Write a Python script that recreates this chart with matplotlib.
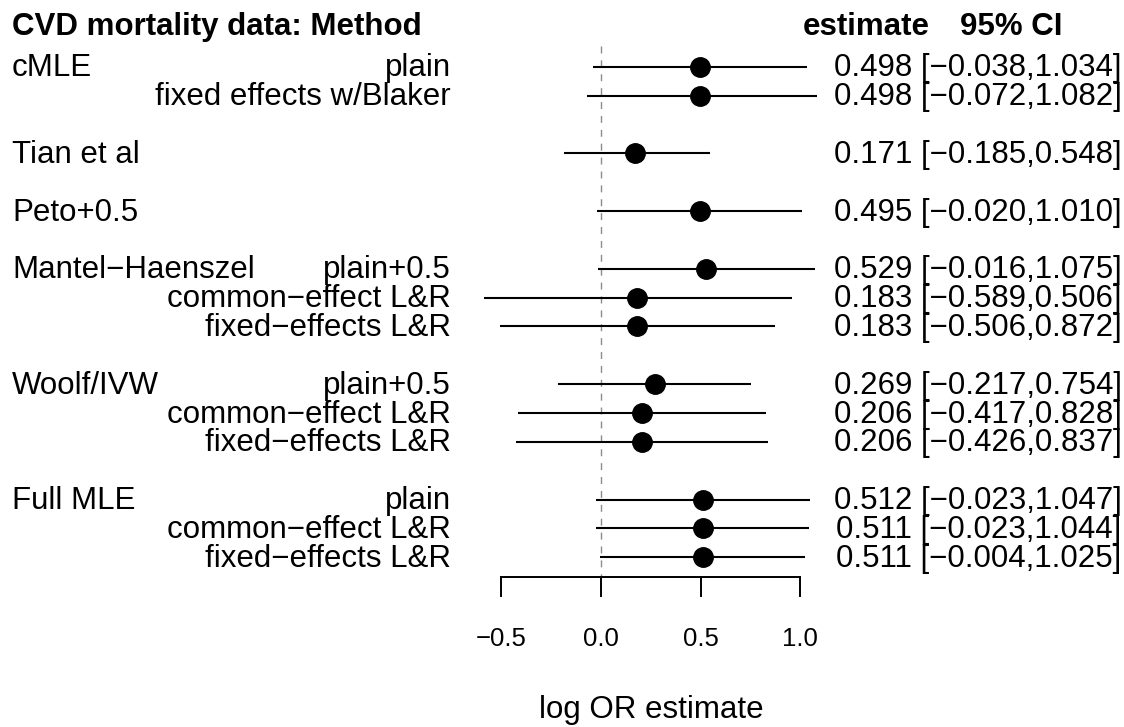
import matplotlib
matplotlib.use("Agg")
import matplotlib.pyplot as plt

plt.rcParams['font.family'] = ['Liberation Sans', 'DejaVu Sans']

MINUS = "\u2212"

# groups of methods and their sub-rows
groups = ["cMLE", "Tian et al", "Peto+0.5", "Mantel" + MINUS + "Haenszel", "Woolf/IVW", "Full MLE"]
group_sizes = [2, 1, 1, 3, 3, 3]
sublabels = ["plain", "fixed effects w/Blaker",
             "",
             "",
             "plain+0.5", "common" + MINUS + "effect L&R", "fixed" + MINUS + "effects L&R",
             "plain+0.5", "common" + MINUS + "effect L&R", "fixed" + MINUS + "effects L&R",
             "plain", "common" + MINUS + "effect L&R", "fixed" + MINUS + "effects L&R"]

est = [0.498, 0.498, 0.171, 0.495, 0.529, 0.183, 0.183, 0.269, 0.206, 0.206, 0.512, 0.511, 0.511]
ci_lo = [-0.038, -0.072, -0.185, -0.020, -0.016, -0.589, -0.506, -0.217, -0.417, -0.426, -0.023, -0.023, -0.004]
ci_hi = [1.034, 1.082, 0.548, 1.010, 1.075, 0.506, 0.872, 0.754, 0.828, 0.837, 1.047, 1.044, 1.025]
# interval ends as drawn in the figure (MH common-effect line runs past its printed upper limit)
line_hi = [1.034, 1.082, 0.548, 1.010, 1.075, 0.958, 0.872, 0.754, 0.828, 0.837, 1.047, 1.044, 1.025]

xticks = [-0.5, 0.0, 0.5, 1.0]
xtick_labels = [MINUS + "0.5", "0.0", "0.5", "1.0"]

# row positions: one blank row between groups
rows = []
first_rows = []
r = 0
for n in group_sizes:
    first_rows.append(r)
    rows.extend(range(r, r + n))
    r += n + 1

fig = plt.figure(figsize=(11.24, 7.27), dpi=100)
ax = fig.add_axes([0, 0, 1, 1])
ax.set_xlim(-601 / 199.3, (1124 - 601) / 199.3)
ax.set_ylim(22.88, -2.311)
ax.axis("off")

fs = 22.5
base = 0.33  # baseline offset below row centre

# reference line at 0
ax.plot([0, 0], [-0.72, 17.67], color="#8c8c8c", lw=1.0, dashes=(5, 5), zorder=1)

for i, y in enumerate(rows):
    ax.plot([ci_lo[i], line_hi[i]], [y, y], color="black", lw=1.5, solid_capstyle="butt", zorder=2)
    ax.plot(est[i], y, "o", color="black", ms=14, zorder=3)
    txt = f"{est[i]:.3f} [{ci_lo[i]:.3f},{ci_hi[i]:.3f}]".replace("-", MINUS)
    ax.text(2.612, y + base, txt, ha="right", va="baseline", fontsize=fs)
    if sublabels[i]:
        ax.text(-0.7526, y + base, sublabels[i], ha="right", va="baseline", fontsize=fs)

for g, y in zip(groups, first_rows):
    ax.text(-2.955, y + base, g, ha="left", va="baseline", fontsize=fs)

# headers
ax.text(-2.955, -1.10, "CVD mortality data: Method", ha="left", va="baseline",
        fontsize=fs, fontweight="bold")
ax.text(1.330, -1.10, "estimate", ha="center", va="baseline", fontsize=fs, fontweight="bold")
ax.text(2.057, -1.10, "95% CI", ha="center", va="baseline", fontsize=fs, fontweight="bold")

# x axis
axis_y = 17.67
ax.plot([xticks[0], xticks[-1]], [axis_y, axis_y], color="black", lw=1.4)
for t, lab in zip(xticks, xtick_labels):
    ax.plot([t, t], [axis_y, 18.34], color="black", lw=1.4)
    ax.text(t, 20.07, lab, ha="center", va="baseline", fontsize=18.5)
ax.text(0.25, 22.58, "log OR estimate", ha="center", va="baseline", fontsize=fs)

fig.savefig("out.png", dpi=100)
